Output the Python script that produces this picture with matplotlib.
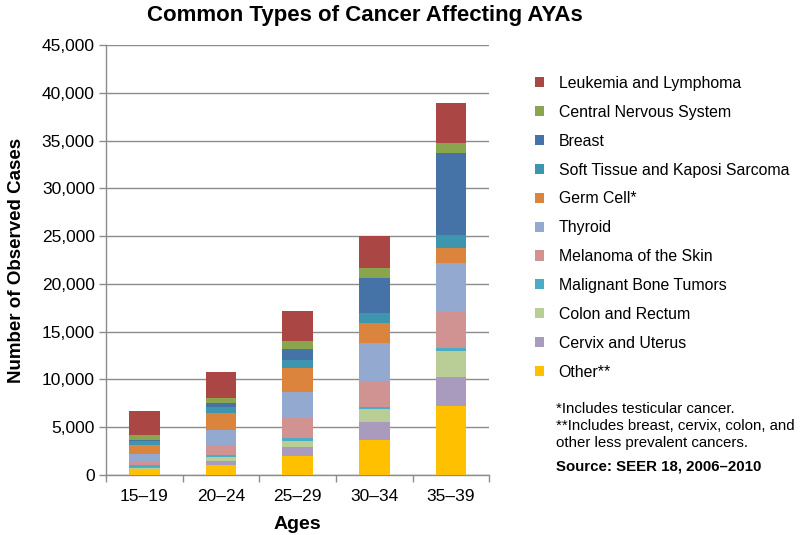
import matplotlib.pyplot as plt
import numpy as np
from matplotlib.patches import Patch
from matplotlib.ticker import FuncFormatter, MultipleLocator

plt.rcParams['font.family'] = ['Liberation Sans', 'DejaVu Sans']

ages = ['15–19', '20–24', '25–29', '30–34', '35–39']

# series, bottom of the stack first
other = [600, 1050, 2020, 3660, 7220]
cervix = [60, 450, 940, 1860, 3070]
colon = [100, 420, 630, 1390, 2720]
bone = [300, 170, 250, 240, 250]
melanoma = [420, 1050, 2090, 2720, 3770]
thyroid = [700, 1570, 2790, 3910, 5120]
germ_cell = [980, 1810, 2440, 2090, 1640]
soft_tissue = [420, 630, 870, 1120, 1330]
breast = [80, 350, 1160, 3660, 8610]
cns = [560, 530, 860, 980, 1050]
leukemia = [2510, 2800, 3140, 3380, 4180]

series = [
    ('Other**', other, '#FFC000'),
    ('Cervix and Uterus', cervix, '#A99BBD'),
    ('Colon and Rectum', colon, '#B9CD96'),
    ('Malignant Bone Tumors', bone, '#4BACC6'),
    ('Melanoma of the Skin', melanoma, '#D19392'),
    ('Thyroid', thyroid, '#93A9CF'),
    ('Germ Cell*', germ_cell, '#DB843D'),
    ('Soft Tissue and Kaposi Sarcoma', soft_tissue, '#3D96AE'),
    ('Breast', breast, '#4572A7'),
    ('Central Nervous System', cns, '#89A54E'),
    ('Leukemia and Lymphoma', leukemia, '#AA4643'),
]

fig = plt.figure(figsize=(8.02, 5.35), dpi=100)
ax = fig.add_axes([0.132, 0.112, 0.478, 0.804])

x = np.arange(len(ages))
bottom = np.zeros(len(ages))
for name, vals, col in series:
    ax.bar(x, vals, width=0.4, bottom=bottom, color=col, zorder=3)
    bottom += np.array(vals)

ax.set_xlim(-0.5, len(ages) - 0.5)
ax.set_ylim(0, 45000)
ax.yaxis.set_major_locator(MultipleLocator(5000))
ax.yaxis.set_major_formatter(FuncFormatter(lambda v, p: f'{int(v):,}'))
ax.grid(axis='y', color='#8C8C8C', linewidth=1.0, zorder=0)

ax.set_xticks(x)
ax.set_xticklabels(ages)
ax.set_xticks(np.arange(-0.5, len(ages)), minor=True)
ax.tick_params(axis='x', which='major', length=0, pad=10, labelsize=12.5)
ax.tick_params(axis='x', which='minor', length=5, color='#8C8C8C', width=1)
ax.tick_params(axis='y', length=5, color='#8C8C8C', width=1, labelsize=12.5, pad=3)

for s in ['top', 'right']:
    ax.spines[s].set_visible(False)
for s in ['left', 'bottom']:
    ax.spines[s].set_color('#8C8C8C')
    ax.spines[s].set_linewidth(1.0)

ax.set_xlabel('Ages', fontsize=14, fontweight='bold', labelpad=9)
ax.set_ylabel('Number of Observed Cases', fontsize=13.5, fontweight='bold', labelpad=12)
fig.suptitle('Common Types of Cancer Affecting AYAs', fontsize=16, fontweight='bold',
             x=0.455, y=0.99)

handles = [Patch(facecolor=col, label=name) for name, vals, col in series][::-1]
fig.legend(handles=handles, loc='upper left', bbox_to_anchor=(0.667, 0.858),
           frameon=False, fontsize=11.4, handlelength=0.6, handleheight=0.6,
           handletextpad=0.9, labelspacing=0.875, borderpad=0, borderaxespad=0)

fig.text(0.693, 0.248, '*Includes testicular cancer.\n**Includes breast, cervix, colon, and\nother less prevalent cancers.',
         fontsize=10.8, va='top', linespacing=1.26)
fig.text(0.693, 0.142, 'Source: SEER 18, 2006–2010', fontsize=10.8, fontweight='bold', va='top')

fig.savefig('out.png', dpi=100)
